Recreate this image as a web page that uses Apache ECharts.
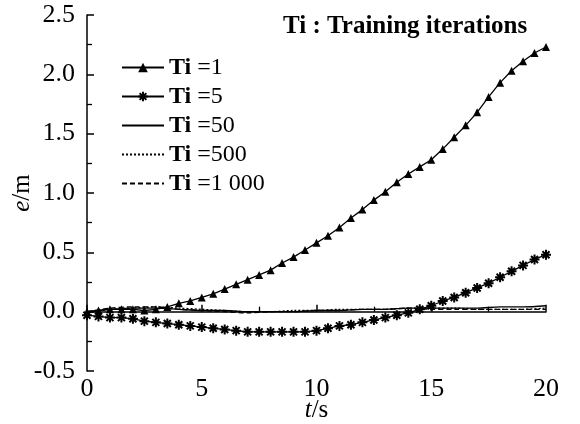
<!DOCTYPE html>
<html>
<head>
<meta charset="utf-8">
<script src="https://cdn.jsdelivr.net/npm/echarts@6/dist/echarts.min.js"></script>
<style>html,body{margin:0;padding:0;background:#fff}#c{width:580px;height:424px}</style>
</head>
<body>
<div id="c"></div>
<script>
// time points (s)
var tMark = [0,0.5,1,1.5,2,2.5,3,3.5,4,4.5,5,5.5,6,6.5,7,7.5,8,8.5,9,9.5,10,10.5,11,11.5,12,12.5,13,13.5,14,14.5,15,15.5,16,16.5,17,17.5,18,18.5,19,19.5,20];
var tLine = [0,1,2,3,4,5,6,7,8,9,10,11,12,13,14,15,16,17,18,19,20];
// e (m) for each number of training iterations
var ti1 = [0.00,0.01,0.02,0.02,0.02,0.01,0.02,0.04,0.07,0.09,0.12,0.15,0.19,0.23,0.27,0.31,0.35,0.41,0.46,0.52,0.58,0.64,0.71,0.79,0.86,0.94,1.01,1.09,1.16,1.22,1.28,1.37,1.47,1.57,1.68,1.81,1.93,2.03,2.11,2.18,2.23];
var ti5 = [-0.03,-0.04,-0.05,-0.05,-0.06,-0.08,-0.09,-0.10,-0.11,-0.12,-0.13,-0.14,-0.15,-0.16,-0.17,-0.17,-0.17,-0.17,-0.17,-0.17,-0.16,-0.14,-0.12,-0.11,-0.09,-0.07,-0.05,-0.03,-0.01,0.02,0.05,0.09,0.12,0.16,0.20,0.24,0.29,0.34,0.39,0.44,0.48];
var ti50 = [0.00,0.02,0.03,0.03,0.02,0.01,0.01,0.00,0.00,0.00,0.01,0.01,0.02,0.02,0.03,0.03,0.03,0.03,0.04,0.04,0.05];
var ti500 = [-0.01,0.02,0.03,0.04,0.03,0.02,0.01,0.00,0.00,0.01,0.01,0.02,0.02,0.02,0.03,0.03,0.03,0.02,0.02,0.02,0.03];
var ti1000 = [0.00,0.03,0.04,0.04,0.02,0.01,0.00,-0.01,0.00,0.00,0.01,0.01,0.02,0.02,0.03,0.02,0.02,0.02,0.02,0.02,0.02];
var seriesNames = ['=1','=5','=50','=500','=1 000'];
var titleText = 'Ti : Training iterations';

function pairs(t, v){ return t.map(function(x,i){ return [x, v[i]]; }); }

var font = 'Liberation Serif';
var asterisk = 'path://M0,5L10,5M5,0L5,10M1.5,1.5L8.5,8.5M8.5,1.5L1.5,8.5';

var chart = echarts.init(document.getElementById('c'), null, {renderer:'canvas'});
var baseLine = function(type){ return {color:'#000', width:1.3, type:type}; };
var legendData = seriesNames.map(function(n, i){
  return i < 2 ? {name:n} : {name:n, itemStyle:{opacity:0}};
});
chart.setOption({
  animation:false,
  backgroundColor:'#fff',
  title:{
    text: titleText, left:278, top:9,
    textStyle:{fontFamily:font, fontSize:25, fontWeight:'bold', color:'#000'}
  },
  grid:{left:87, right:34, top:15, bottom:53, containLabel:false, outerBoundsMode:'none'},
  legend:{
    orient:'vertical', left:116, top:50, itemWidth:42, itemHeight:12, itemGap:4,
    data: legendData,
    formatter:function(n){ return '{b|Ti} ' + n; },
    textStyle:{fontFamily:font, fontSize:24, color:'#000', lineHeight:25,
      rich:{b:{fontFamily:font, fontSize:24, fontWeight:'bold', color:'#000'}}}
  },
  xAxis:{
    type:'value', min:0, max:20, interval:5,
    name:'{i|t}/s', nameLocation:'middle', nameGap:27, nameMoveOverlap:false,
    nameTextStyle:{fontFamily:font, fontSize:25, color:'#000', rich:{i:{fontFamily:font, fontSize:25, fontStyle:'italic', color:'#000'}}},
    axisLine:{lineStyle:{color:'#000', width:1.5}},
    axisTick:{inside:true, length:7, lineStyle:{color:'#000', width:1.5}},
    minorTick:{show:true, splitNumber:2, length:5, lineStyle:{color:'#000', width:1.3}},
    splitLine:{show:false},
    axisLabel:{fontFamily:font, fontSize:26, color:'#000', margin:5}
  },
  yAxis:{
    type:'value', min:-0.5, max:2.5, interval:0.5,
    name:'{i|e}/m', nameLocation:'middle', nameGap:52, nameRotate:90, nameMoveOverlap:false,
    nameTextStyle:{fontFamily:font, fontSize:25, color:'#000', rich:{i:{fontFamily:font, fontSize:25, fontStyle:'italic', color:'#000'}}},
    axisLine:{show:true, lineStyle:{color:'#000', width:1.5}},
    axisTick:{show:true, inside:true, length:7, lineStyle:{color:'#000', width:1.5}},
    minorTick:{show:true, splitNumber:2, length:5, lineStyle:{color:'#000', width:1.3}},
    splitLine:{show:false},
    axisLabel:{fontFamily:font, fontSize:26, color:'#000', margin:12, formatter:function(v){return v.toFixed(1);}}
  },
  series:[
    {name:seriesNames[0], type:'line', data:pairs(tMark, ti1), symbol:'triangle', symbolSize:8, showAllSymbol:true,
     lineStyle:baseLine('solid'), itemStyle:{color:'#000'}},
    {name:seriesNames[1], type:'line', data:pairs(tMark, ti5), symbol:asterisk, symbolSize:10, showAllSymbol:true,
     lineStyle:baseLine('solid'), itemStyle:{color:'#000', borderColor:'#000', borderWidth:2}},
    {name:seriesNames[2], type:'line', data:pairs(tLine, ti50), symbol:'none', smooth:0.3,
     lineStyle:baseLine('solid'), itemStyle:{color:'#000'}},
    {name:seriesNames[3], type:'line', data:pairs(tLine, ti500), symbol:'none', smooth:0.3,
     lineStyle:{color:'#000', width:1.3, type:[2,2]}, itemStyle:{color:'#000'}},
    {name:seriesNames[4], type:'line', data:pairs(tLine, ti1000), symbol:'none', smooth:0.3,
     lineStyle:{color:'#000', width:1.3, type:[5,3]}, itemStyle:{color:'#000'}}
  ]
});
</script>
</body>
</html>
